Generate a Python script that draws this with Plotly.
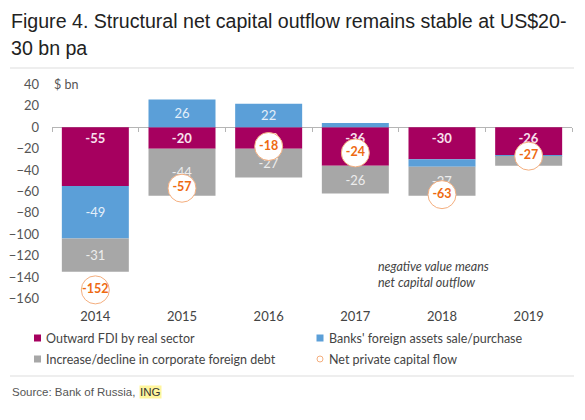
import plotly.graph_objects as go

years = ["2014", "2015", "2016", "2017", "2018", "2019"]
fdi = [-55, -20, -20, -36, -30, -26]
banks = [-49, 26, 22, 4, -7, -1]
debt = [-31, -44, -27, -26, -27, -9]
net_flow = [-152, -57, -18, -24, -63, -27]
y_ticks = [40, 20, 0, -20, -40, -60, -80, -100, -120, -140, -160]
legend_names = ["Outward FDI by real sector", "Banks' foreign assets sale/purchase",
                "Increase/decline in corporate foreign debt", "Net private capital flow"]

C_FDI = "#A6005F"
C_BANK = "#5B9FD8"
C_DEBT = "#A7A7A7"
C_ORANGE = "#EE6A12"
FONT = "Lato"
TITLE_FONT = "Liberation Sans"

# the page body has an 8px margin, so the figure starts at (8, 8) of the window
OFF = 8
PAGE_W, PAGE_H = 585, 420
W, H = PAGE_W - OFF, PAGE_H - OFF
PLOT_L, PLOT_R, PLOT_T, PLOT_B = 52, 572, 78, 307   # page pixels
ML, MR, MT, MB = PLOT_L - OFF, PAGE_W - PLOT_R, PLOT_T - OFF, PAGE_H - PLOT_B
Y_RANGE = [-168, 46]
PW = PLOT_R - PLOT_L
PH = PLOT_B - PLOT_T


def px_x(px):
    return (px - PLOT_L) / PW


def px_y(py):
    return (PLOT_B - py) / PH


fig = go.Figure()
fig.add_bar(x=years, y=fdi, name=legend_names[0], marker=dict(color=C_FDI, line=dict(width=0)),
            text=[str(v) for v in fdi], textposition="inside", insidetextanchor="start",
            constraintext="none",
            textfont=dict(family=FONT, size=13, color="#F8E1EE", weight="bold"), showlegend=False)
fig.add_bar(x=years, y=banks, name=legend_names[1], marker=dict(color=C_BANK, line=dict(width=0)),
            text=[str(v) if abs(v) >= 10 else "" for v in banks], textposition="inside",
            insidetextanchor="middle", constraintext="none",
            textfont=dict(family=FONT, size=13, color="#E4EFFA"), showlegend=False)
fig.add_bar(x=years, y=debt, name=legend_names[2], marker=dict(color=C_DEBT, line=dict(width=0)),
            text=[str(v) for v in debt], textposition="inside", insidetextanchor="middle",
            constraintext="none",
            textfont=dict(family=FONT, size=13, color="#EDEDED"), showlegend=False)
fig.add_scatter(x=years, y=net_flow, name=legend_names[3], mode="markers+text",
                marker=dict(size=28, color="white", line=dict(color="#F4AE7E", width=1)),
                text=[str(v) for v in net_flow], textposition="middle center",
                textfont=dict(family=FONT, size=12.5, color=C_ORANGE, weight="bold"),
                showlegend=False, cliponaxis=False)

n = len(years)
fig.update_layout(
    width=W, height=H,
    margin=dict(l=ML, r=MR, t=MT, b=MB, autoexpand=False),
    paper_bgcolor="white", plot_bgcolor="white",
    barmode="relative", bargap=0.227,
    font=dict(family=FONT, size=12.5, color="#555555"),
    xaxis=dict(type="category", range=[-0.5, n - 0.5], showline=False, showgrid=False,
               zeroline=False, ticks="", automargin=False,
               tickfont=dict(family=FONT, size=13, color="#444444")),
    xaxis2=dict(overlaying="x", anchor="free", position=(0 - Y_RANGE[0]) / (Y_RANGE[1] - Y_RANGE[0]),
                range=[-0.5, n - 0.5], tickmode="array", tickvals=[i - 0.5 for i in range(n + 1)],
                ticks="outside", ticklen=4, tickcolor="#B5B5B5", showline=True, linecolor="#B5B5B5",
                linewidth=1, showticklabels=False, showgrid=False, zeroline=False,
                layer="below traces", automargin=False),
    yaxis=dict(range=Y_RANGE, tickmode="array", tickvals=y_ticks, showgrid=False, zeroline=False,
               showline=False, ticks="", ticklabelstandoff=12, automargin=False,
               tickfont=dict(family=FONT, size=13, color="#555555")),
)

# invisible trace so that the zero-line axis (xaxis2) is drawn
fig.add_scatter(x=[0], y=[0], xaxis="x2", mode="markers", marker=dict(opacity=0), showlegend=False,
                hoverinfo="skip")

ann = []
ann.append(dict(text="Figure 4. Structural net capital outflow remains stable at US$20-",
                x=px_x(9), y=px_y(21), xref="paper", yref="paper", xanchor="left", yanchor="middle",
                showarrow=False, font=dict(family=TITLE_FONT, size=19.6, color="#222222")))
ann.append(dict(text="30 bn pa", x=px_x(9), y=px_y(48), xref="paper", yref="paper",
                xanchor="left", yanchor="middle", showarrow=False,
                font=dict(family=TITLE_FONT, size=19.6, color="#222222")))
ann.append(dict(text="$ bn", x=0, y=y_ticks[0], xref="paper", yref="y", xanchor="left",
                yanchor="middle", showarrow=False, font=dict(family=FONT, size=12.5, color="#555555")))
ann.append(dict(text="<i>negative value means<br>net capital outflow</i>", x=px_x(376), y=px_y(274),
                xref="paper", yref="paper", xanchor="left", yanchor="middle", align="left",
                showarrow=False, font=dict(family=FONT, size=12.5, color="#444444")))

leg_pos = [(37.5, 338), (320, 338), (37.5, 359), (320, 359)]
leg_colors = [C_FDI, C_BANK, C_DEBT, C_ORANGE]
shapes = []
for i, (name, (cx, cy), col) in enumerate(zip(legend_names, leg_pos, leg_colors)):
    ann.append(dict(text=name, x=px_x(cx + 6.5), y=px_y(cy), xref="paper", yref="paper",
                    xanchor="left", yanchor="middle", showarrow=False,
                    font=dict(family=FONT, size=12.5, color="#444444")))
    if i < 3:
        shapes.append(dict(type="rect", xref="paper", yref="paper", xsizemode="pixel",
                           ysizemode="pixel", xanchor=px_x(cx), yanchor=px_y(cy),
                           x0=-3.5, x1=3.5, y0=-3.5, y1=3.5, fillcolor=col, line=dict(width=0)))
    else:
        shapes.append(dict(type="circle", xref="paper", yref="paper", xsizemode="pixel",
                           ysizemode="pixel", xanchor=px_x(cx), yanchor=px_y(cy),
                           x0=-3, x1=3, y0=-3, y1=3, fillcolor="white",
                           line=dict(color="#F4AE7E", width=1)))

shapes.append(dict(type="line", xref="paper", yref="paper", x0=px_x(10), x1=px_x(574),
                   y0=px_y(68), y1=px_y(68), line=dict(color="#DDDDDD", width=1)))
shapes.append(dict(type="line", xref="paper", yref="paper", x0=px_x(10), x1=px_x(574),
                   y0=px_y(376), y1=px_y(376), line=dict(color="#DDDDDD", width=1)))

ann.append(dict(text="Source: Bank of Russia,", x=px_x(10), y=px_y(392), xref="paper", yref="paper",
                xanchor="left", yanchor="middle", showarrow=False,
                font=dict(family=TITLE_FONT, size=11.5, color="#555555")))
ann.append(dict(text="ING", x=px_x(139), y=px_y(392), xref="paper", yref="paper",
                xanchor="left", yanchor="middle", showarrow=False, bgcolor="#FFF59D", borderpad=0,
                font=dict(family=TITLE_FONT, size=11.5, color="#333333")))

fig.update_layout(annotations=ann, shapes=shapes)
fig.write_html("out.html")
